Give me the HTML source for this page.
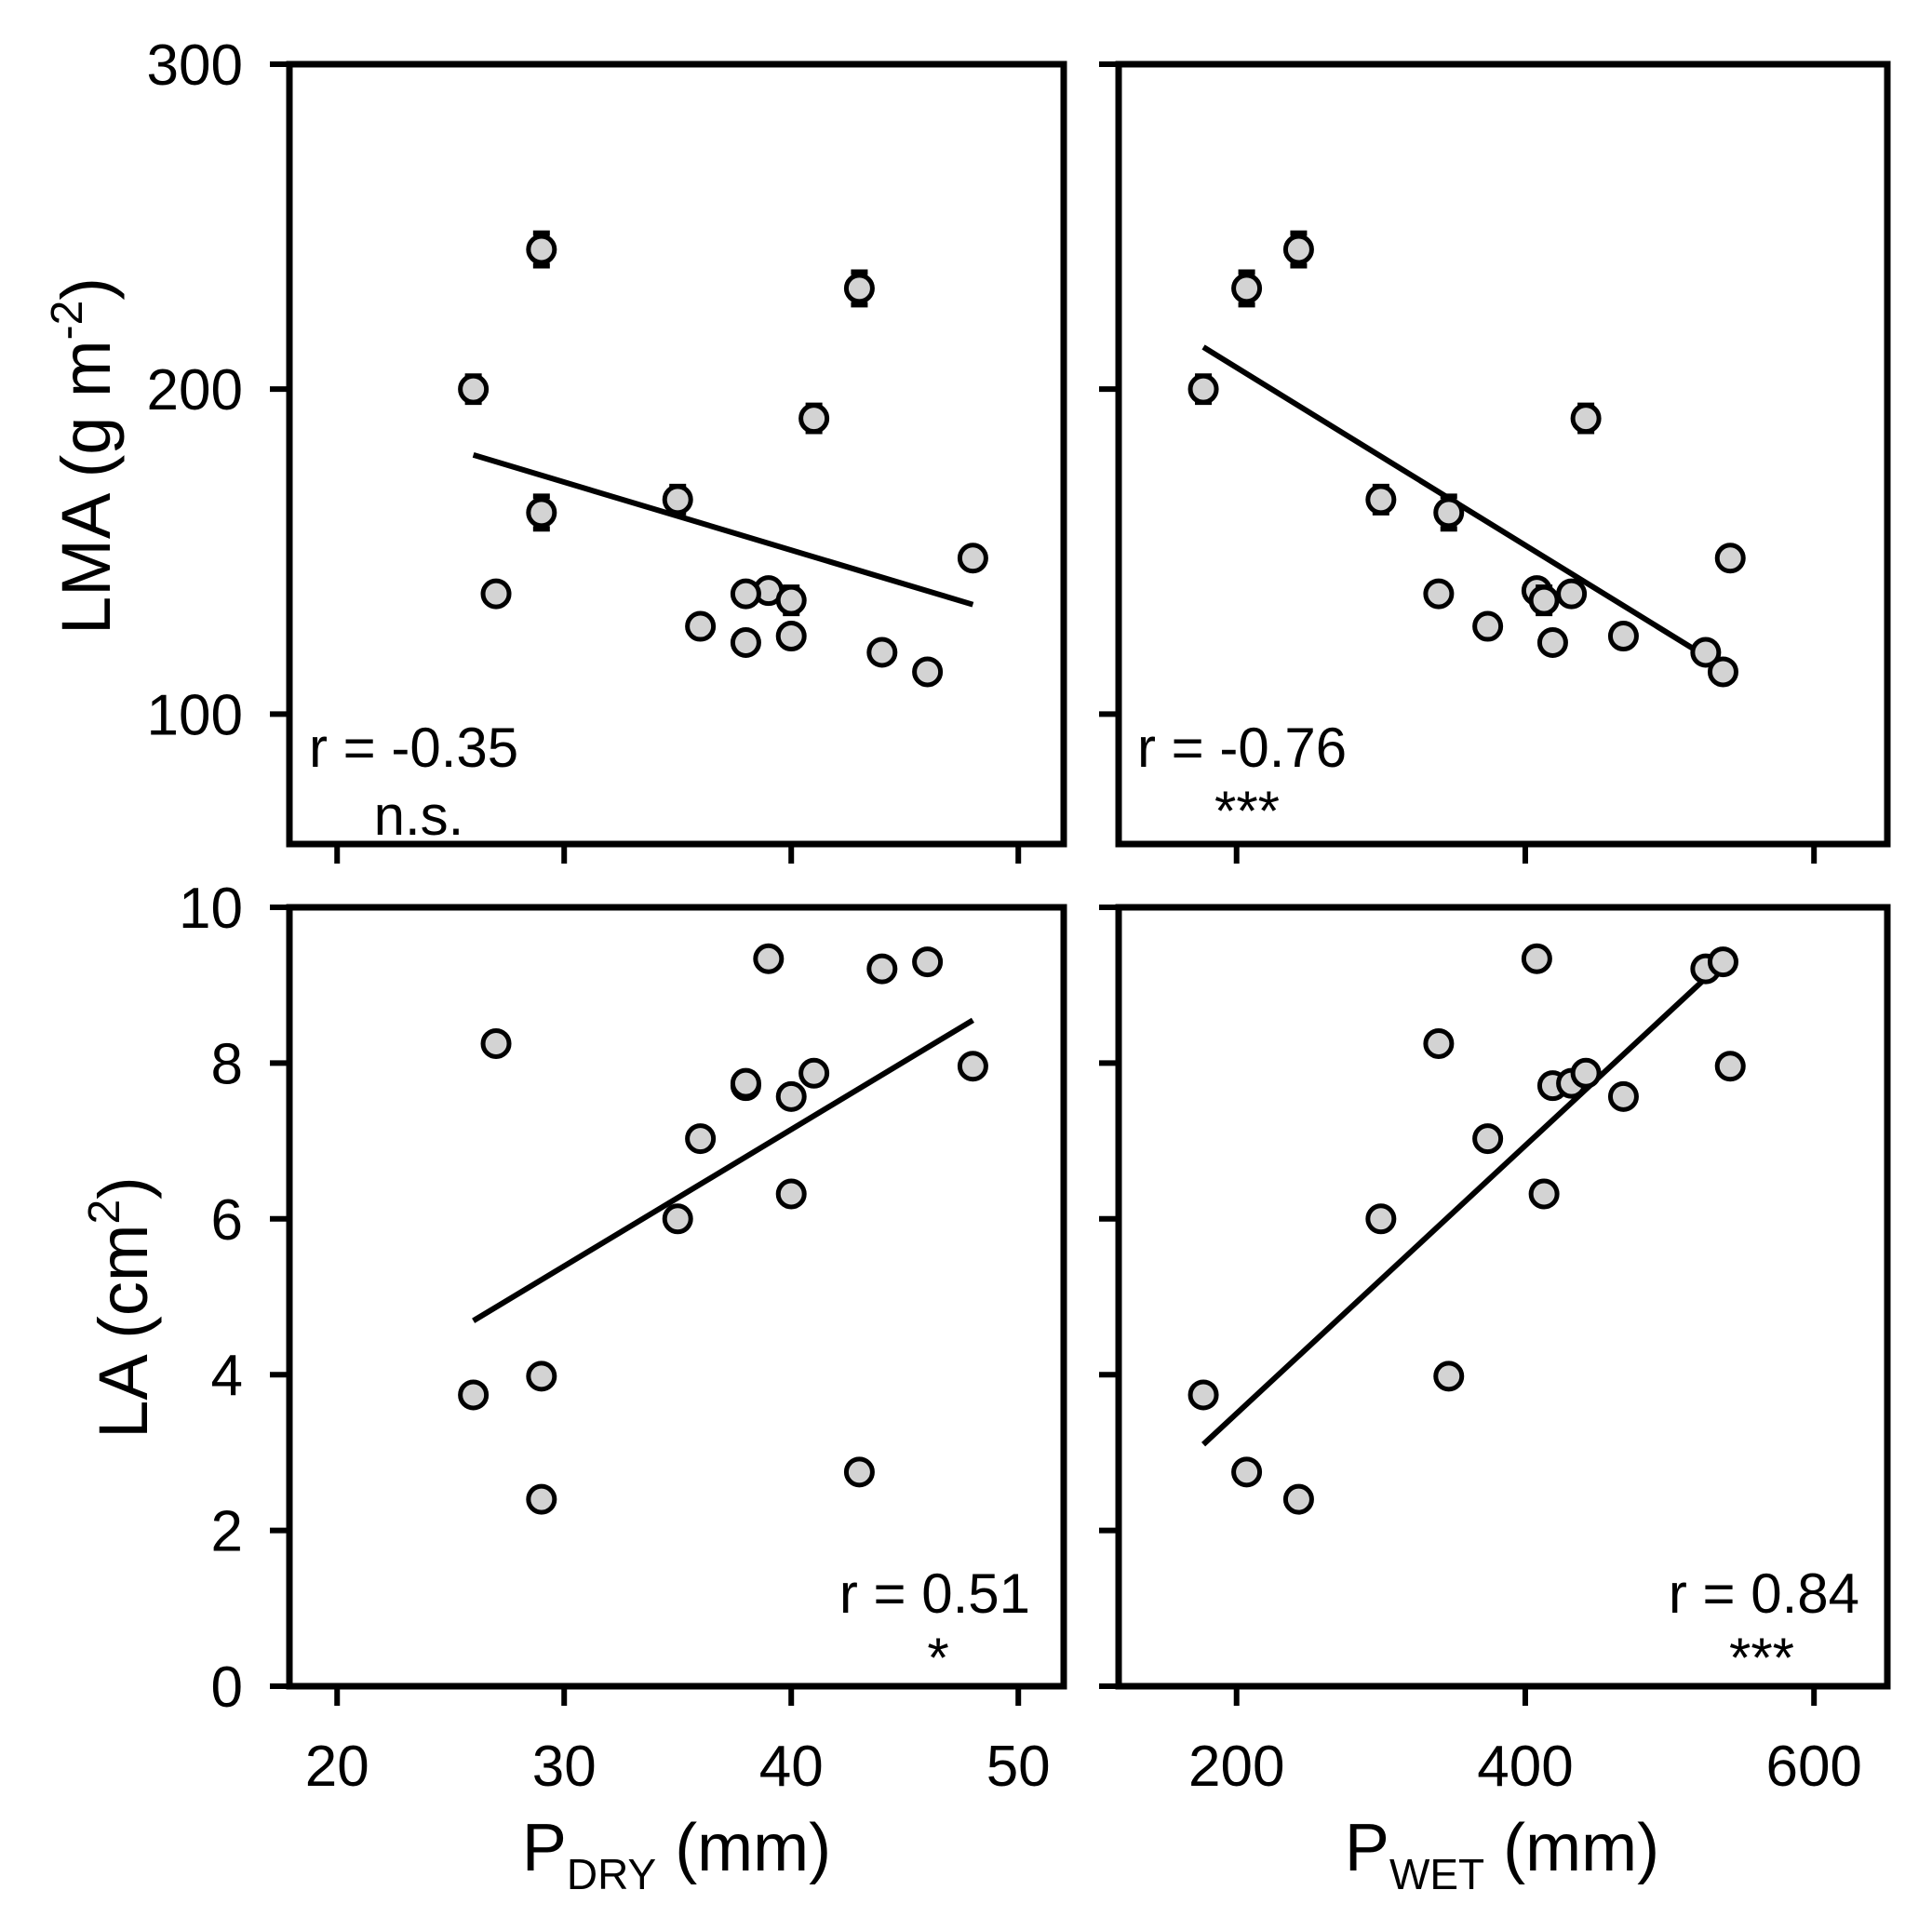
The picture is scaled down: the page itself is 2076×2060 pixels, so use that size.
<!DOCTYPE html>
<html><head><meta charset="utf-8"><style>
html,body{margin:0;padding:0;background:#fff;}
svg{display:block;font-family:"Liberation Sans",Arial,sans-serif;}
</style></head><body>
<svg id="fig" width="2076" height="2060" viewBox="0 0 2076 2060" xmlns="http://www.w3.org/2000/svg">
<g id="root"></g>
</svg>
<script>
const pdry = [26, 29, 43, 35, 29, 27, 36, 39, 40, 38, 38, 41, 40, 44, 46, 48];
const pwet = [177, 243, 207, 300, 347, 340, 374, 408, 413, 419, 432, 442, 468, 525, 537, 542];
const lma = [200, 243, 231, 166, 162, 137, 127, 138, 135, 122, 137, 191, 124, 119, 113, 148];
const lmaSE = [4, 5, 5, 4, 5, 1, 1, 1, 4, 1, 1, 4, 1, 1, 1, 1];
const la = [3.74, 2.40, 2.75, 6.0, 3.98, 8.25, 7.03, 9.34, 6.32, 7.71, 7.74, 7.87, 7.57, 9.21, 9.30, 7.96];
const xTicksDry = [20, 30, 40, 50];
const xTicksWet = [200, 400, 600];
const yTicksLMA = [100, 200, 300];
const yTicksLA = [0, 2, 4, 6, 8, 10];

const NS = "http://www.w3.org/2000/svg";
const root = document.getElementById('root');
function mk(tag, attrs, parent) {
  const e = document.createElementNS(NS, tag);
  for (const k in attrs) e.setAttribute(k, attrs[k]);
  (parent || root).appendChild(e);
  return e;
}
const colL = {x0: 311, x1: 1143, min: 17.9, max: 52};
const colR = {x0: 1202, x1: 2028, min: 118.3, max: 650.8};
const rowT = {y0: 69, y1: 907, min: 60, max: 300};
const rowB = {y0: 975, y1: 1812, min: 0, max: 10};

function panel(name, col, row, xs, ys, se, xt, yt, showXLab, showYLab, rTxt, sig, annPos) {
  const g = mk('g', {});
  
  
  const sx = v => col.x0 + (v - col.min) / (col.max - col.min) * (col.x1 - col.x0);
  const sy = v => row.y1 - (v - row.min) / (row.max - row.min) * (row.y1 - row.y0);
  const frame = mk('rect', {x: col.x0, y: row.y0, width: col.x1 - col.x0, height: row.y1 - row.y0, fill: 'none', stroke: '#000', 'stroke-width': 7}, g);
  
  
  xt.forEach(v => {
    const t = mk('line', {x1: sx(v), x2: sx(v), y1: row.y1, y2: row.y1 + 21, stroke: '#000', 'stroke-width': 6}, g);
    
    
    if (showXLab) {
      const l = mk('text', {x: sx(v), y: row.y1 + 107, 'font-size': 62, 'text-anchor': 'middle'}, g);
      l.textContent = v;
      
      
    }
  });
  yt.forEach(v => {
    const t = mk('line', {x1: col.x0 - 21, x2: col.x0, y1: sy(v), y2: sy(v), stroke: '#000', 'stroke-width': 6}, g);
    
    
    if (showYLab) {
      const l = mk('text', {x: col.x0 - 50, y: sy(v) + 22, 'font-size': 62, 'text-anchor': 'end'}, g);
      l.textContent = v;
      
      
    }
  });
  const n = xs.length;
  const mx = xs.reduce((a, b) => a + b, 0) / n, my = ys.reduce((a, b) => a + b, 0) / n;
  let sxy = 0, sxx = 0;
  for (let i = 0; i < n; i++) { sxy += (xs[i] - mx) * (ys[i] - my); sxx += (xs[i] - mx) ** 2; }
  const b = sxy / sxx, a = my - b * mx;
  const xa = Math.min(...xs), xb = Math.max(...xs);
  const rl = mk('line', {x1: sx(xa), y1: sy(a + b * xa), x2: sx(xb), y2: sy(a + b * xb), stroke: '#000', 'stroke-width': 6}, g);
  
  
  for (let i = 0; i < n; i++) {
    const cx = sx(xs[i]), cy = sy(ys[i]);
    if (se) {
      const e = se[i];
      const eb = mk('path', {d: `M${cx} ${sy(ys[i] + e)}V${sy(ys[i] - e)}M${cx - 9} ${sy(ys[i] + e)}H${cx + 9}M${cx - 9} ${sy(ys[i] - e)}H${cx + 9}`, stroke: '#000', 'stroke-width': 6, fill: 'none'}, g);
      
      
    }
    const c = mk('circle', {cx: cx, cy: cy, r: 14, fill: '#d3d3d3', stroke: '#000', 'stroke-width': 5}, g);
    
    
  }
  const r = mk('text', {x: annPos[0], y: annPos[1], 'font-size': 60, 'text-anchor': annPos[2]}, g);
  r.textContent = rTxt;
  
  
  const s = mk('text', {x: annPos[3], y: annPos[4], 'font-size': 60, 'text-anchor': 'middle'}, g);
  s.textContent = sig;
  
  
}
panel('panel-lma-pdry', colL, rowT, pdry, lma, lmaSE, xTicksDry, yTicksLMA, false, true, 'r = -0.35', 'n.s.', [332, 824, 'start', 450, 897]);
panel('panel-lma-pwet', colR, rowT, pwet, lma, lmaSE, xTicksWet, yTicksLMA, false, false, 'r = -0.76', '***', [1222, 824, 'start', 1340, 892]);
panel('panel-la-pdry', colL, rowB, pdry, la, null, xTicksDry, yTicksLA, true, true, 'r = 0.51', '*', [1107, 1733, 'end', 1008, 1802]);
panel('panel-la-pwet', colR, rowB, pwet, la, null, xTicksWet, yTicksLA, true, false, 'r = 0.84', '***', [1998, 1733, 'end', 1893, 1802]);
</script>
<div style="position:absolute;left:0;top:0;width:2076px;height:2060px;pointer-events:none;">
<svg width="2076" height="2060" style="font-family:'Liberation Sans',Arial,sans-serif;">
<text transform="translate(118,490) rotate(-90)" font-size="74" text-anchor="middle">LMA (g m<tspan dy="-30" font-size="48">-2</tspan><tspan dy="30">)</tspan></text>
<text transform="translate(158,1405) rotate(-90)" font-size="74" text-anchor="middle">LA (cm<tspan dy="-30" font-size="48">2</tspan><tspan dy="30">)</tspan></text>
<text x="727" y="2010" font-size="72" text-anchor="middle">P<tspan dy="20" font-size="46">DRY</tspan><tspan dy="-20"> (mm)</tspan></text>
<text x="1614" y="2010" font-size="72" text-anchor="middle">P<tspan dy="20" font-size="46">WET</tspan><tspan dy="-20"> (mm)</tspan></text>
</svg></div>
</body></html>
